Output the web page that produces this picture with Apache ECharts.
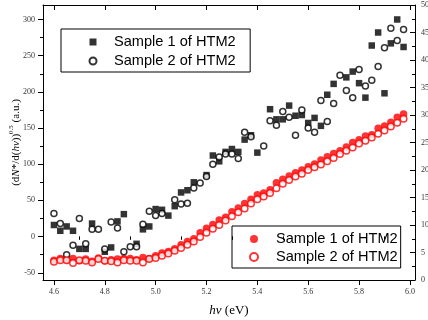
<!DOCTYPE html>
<html>
<head>
<meta charset="utf-8">
<script src="https://cdn.jsdelivr.net/npm/echarts@6/dist/echarts.min.js"></script>
<style>
  html, body { margin: 0; padding: 0; background: #fff; }
  #chart { width: 428px; height: 320px; }
</style>
</head>
<body>
<div id="chart"></div>
<script>
// Photon energy (eV) and signal for the scattered measurements (left axis)
const sample1Energy = [4.600,4.625,4.650,4.675,4.700,4.725,4.750,4.800,4.825,4.850,4.875,4.925,4.950,4.975,5.000,5.025,5.050,5.075,5.100,5.125,5.150,5.200,5.225,5.250,5.275,5.300,5.325,5.350,5.375,5.400,5.450,5.475,5.500,5.525,5.550,5.575,5.600,5.625,5.650,5.675,5.700,5.750,5.775,5.800,5.825,5.850,5.875,5.900,5.925,5.950,5.975];
const sample1Signal = [16,8,14,8,-17,-17,18,-21,-15,21,31,-10,10,14,38,37,29,42,61,64,75,85,112,104,117,121,117,134,140,116,176,162,162,181,167,168,157,164,153,196,211,220,228,212,192,264,282,198,267,300,262];

const sample2Energy = [4.600,4.625,4.650,4.675,4.700,4.725,4.750,4.775,4.800,4.825,4.850,4.875,4.900,4.925,4.950,4.975,5.000,5.025,5.075,5.100,5.125,5.150,5.175,5.200,5.225,5.250,5.275,5.300,5.325,5.350,5.375,5.425,5.450,5.475,5.500,5.525,5.550,5.575,5.600,5.625,5.650,5.675,5.700,5.725,5.750,5.775,5.800,5.825,5.850,5.875,5.900,5.925,5.950,5.975];
const sample2Signal = [32,18,-25,-12,25,-10,10,10,-17,20,12,-21,-14,-14,17,35,29,32,51,45,46,67,74,83,100,110,114,114,108,144,138,125,160,154,173,165,140,175,150,144,188,159,184,223,202,192,231,208,216,235,261,288,271,286];

// Smoothed curves (right axis)
const smoothEnergy = [4.600,4.625,4.650,4.675,4.700,4.725,4.750,4.775,4.800,4.825,4.850,4.875,4.900,4.925,4.950,4.975,5.000,5.025,5.050,5.075,5.100,5.125,5.150,5.175,5.200,5.225,5.250,5.275,5.300,5.325,5.350,5.375,5.400,5.425,5.450,5.475,5.500,5.525,5.550,5.575,5.600,5.625,5.650,5.675,5.700,5.725,5.750,5.775,5.800,5.825,5.850,5.875,5.900,5.925,5.950,5.975];
const smooth1 = [3.6,3.9,3.7,3.9,3.5,3.8,3.4,4.0,3.5,3.7,3.8,3.9,3.9,3.7,4.1,3.9,4.4,4.9,5.2,5.7,6.4,7.0,7.5,8.6,9.4,10.1,10.9,11.4,12.4,13.1,13.9,14.7,15.5,15.8,16.4,17.7,18.3,18.9,19.5,20.0,20.6,21.1,21.8,22.4,23.0,23.5,24.2,25.0,25.5,26.2,26.4,27.6,28.0,28.7,29.6,30.2];
const smooth2 = [3.3,3.6,3.6,3.1,3.6,3.5,3.2,3.8,3.5,3.4,3.2,3.6,3.5,3.5,3.2,3.8,4.0,4.4,4.8,5.3,5.8,6.4,7.0,7.8,8.6,9.3,10.0,10.8,11.6,12.3,13.0,13.9,14.7,15.2,15.8,16.7,17.5,18.2,18.8,19.3,20.0,20.5,21.0,21.6,22.2,22.9,23.5,24.1,24.8,25.3,25.9,26.6,27.2,27.9,28.6,29.3];

// Tick positions
const xMajorTicks = [4.6,4.8,5.0,5.2,5.4,5.6,5.8,6.0];
const xMinorTicks = [4.7,4.9,5.1,5.3,5.5,5.7,5.9];
const yLeftMajor = [-50,0,50,100,150,200,250,300];
const yLeftMinor = [-25,25,75,125,175,225,275];

const zip = (xs, ys) => xs.map((x, i) => [x, ys[i]]);

const serif = 'Liberation Serif';
const sans = 'Liberation Sans';
const X_MIN = 4.557, X_MAX = 6.02;
const Y_MIN = -60, Y_MAX = 320;
const SQUARE_ICON = 'path://M0 0H10V10H0Z';

const hiddenLine = { show: false };
const noLabel = { show: false };
const noSplit = { show: false };
const tickStyle = { color: '#000', width: 1 };

const chart = echarts.init(document.getElementById('chart'), null, { renderer: 'canvas' });

chart.setOption({
  backgroundColor: '#fff',
  animation: false,
  grid: { left: 43, right: 13, top: 5, bottom: 40, containLabel: false, outerBoundsMode: 'none' },
  xAxis: [
    {
      type: 'value', position: 'bottom', min: X_MIN, max: X_MAX,
      axisLine: { show: true, onZero: false, lineStyle: { color: '#000', width: 1 } },
      axisTick: { show: true, inside: false, length: 5, customValues: xMajorTicks, lineStyle: tickStyle },
      axisLabel: { show: true, customValues: xMajorTicks, formatter: v => v.toFixed(1),
        fontFamily: serif, fontSize: 8, color: '#333', margin: 8 },
      splitLine: noSplit,
      name: '{i|hν} {n|(eV)}', nameLocation: 'middle', nameGap: 24,
      nameTextStyle: { fontFamily: serif, fontSize: 13, color: '#000',
        rich: { i: { fontFamily: serif, fontStyle: 'italic', fontSize: 13 }, n: { fontFamily: serif, fontSize: 13 } } }
    },
    {
      type: 'value', position: 'bottom', min: X_MIN, max: X_MAX,
      axisLine: hiddenLine,
      axisTick: { show: true, inside: false, length: 3, customValues: xMinorTicks, lineStyle: tickStyle },
      axisLabel: noLabel, splitLine: noSplit
    },
    {
      type: 'value', position: 'top', min: X_MIN, max: X_MAX,
      axisLine: { show: true, onZero: false, lineStyle: { color: '#000', width: 1 } },
      axisTick: { show: true, inside: true, length: 5, customValues: xMajorTicks, lineStyle: tickStyle },
      axisLabel: noLabel, splitLine: noSplit
    },
    {
      type: 'value', position: 'top', min: X_MIN, max: X_MAX,
      axisLine: hiddenLine,
      axisTick: { show: true, inside: true, length: 3, customValues: xMinorTicks, lineStyle: tickStyle },
      axisLabel: noLabel, splitLine: noSplit
    }
  ],
  yAxis: [
    {
      type: 'value', position: 'left', min: Y_MIN, max: Y_MAX,
      axisLine: { show: true, onZero: false, lineStyle: { color: '#000', width: 1 } },
      axisTick: { show: true, inside: false, length: 5, customValues: yLeftMajor, lineStyle: tickStyle },
      axisLabel: { show: true, customValues: yLeftMajor, fontFamily: serif, fontSize: 8, color: '#333', margin: 8 },
      splitLine: noSplit,
      name: '{n|(d}{i|N}{n|*/d(}{i|hν}{n|))}{s|0.5}{n| (a.u.)}',
      nameLocation: 'middle', nameRotate: 90, nameGap: 21, nameMoveOverlap: false,
      nameTextStyle: {
        fontFamily: serif, fontSize: 11, color: '#000',
        rich: {
          n: { fontFamily: serif, fontSize: 11, lineHeight: 14, verticalAlign: 'bottom' },
          i: { fontFamily: serif, fontSize: 11, fontStyle: 'italic', lineHeight: 14, verticalAlign: 'bottom' },
          s: { fontFamily: serif, fontSize: 7, lineHeight: 8, verticalAlign: 'top' }
        }
      }
    },
    {
      type: 'value', position: 'left', min: Y_MIN, max: Y_MAX,
      axisLine: hiddenLine,
      axisTick: { show: true, inside: false, length: 3, customValues: yLeftMinor, lineStyle: tickStyle },
      axisLabel: noLabel, splitLine: noSplit
    },
    {
      type: 'value', position: 'right', min: 0, max: 50, interval: 5,
      axisLine: { show: true, onZero: false, lineStyle: { color: '#000', width: 1 } },
      axisTick: { show: true, inside: true, length: 5, lineStyle: tickStyle },
      minorTick: { show: true, splitNumber: 2, length: 3, lineStyle: tickStyle },
      axisLabel: { show: true, fontFamily: serif, fontSize: 8, color: '#333', margin: 6 },
      splitLine: noSplit
    }
  ],
  legend: [
    {
      data: [{ name: 'Sample 1 of HTM2', icon: SQUARE_ICON }, 'Sample 2 of HTM2'],
      orient: 'vertical', align: 'left', left: 61, top: 29,
      padding: [5.5, 14.5, 3.5, 27.5], itemGap: 4,
      itemWidth: 32, itemHeight: 7, symbolKeepAspect: true,
      borderColor: '#000', borderWidth: 1, borderRadius: 0,
      textStyle: { fontFamily: sans, fontSize: 14.6, color: '#000' },
      selectedMode: false
    },
    {
      data: ['Sample 1 of HTM2 ', 'Sample 2 of HTM2 '],
      formatter: name => name.trim(),
      orient: 'vertical', align: 'left', left: 232, top: 226,
      padding: [5.5, 3, 3.5, 17], itemGap: 3,
      itemWidth: 34, itemHeight: 8, symbolKeepAspect: true,
      borderColor: '#000', borderWidth: 1, borderRadius: 0,
      textStyle: { fontFamily: sans, fontSize: 14.6, color: '#000' },
      selectedMode: false
    }
  ],
  series: [
    {
      name: 'Sample 1 of HTM2', type: 'scatter', xAxisIndex: 0, yAxisIndex: 0,
      symbol: 'rect', symbolSize: 6.5,
      itemStyle: { color: '#000' },
      data: zip(sample1Energy, sample1Signal), z: 3
    },
    {
      name: 'Sample 2 of HTM2', type: 'scatter', xAxisIndex: 0, yAxisIndex: 0,
      symbol: 'circle', symbolSize: 6,
      itemStyle: { color: '#fff', borderColor: '#000', borderWidth: 1.5 },
      data: zip(sample2Energy, sample2Signal), z: 4
    },
    {
      name: 'Sample 1 of HTM2 ', type: 'scatter', xAxisIndex: 0, yAxisIndex: 2,
      symbol: 'circle', symbolSize: 7.5,
      itemStyle: { color: '#ff0000' },
      data: zip(smoothEnergy, smooth1), z: 3
    },
    {
      name: 'Sample 2 of HTM2 ', type: 'scatter', xAxisIndex: 0, yAxisIndex: 2,
      symbol: 'circle', symbolSize: 6.5,
      itemStyle: { color: '#fff', borderColor: '#ff0000', borderWidth: 1.5 },
      data: zip(smoothEnergy, smooth2), z: 4
    }
  ]
});
</script>
</body>
</html>
